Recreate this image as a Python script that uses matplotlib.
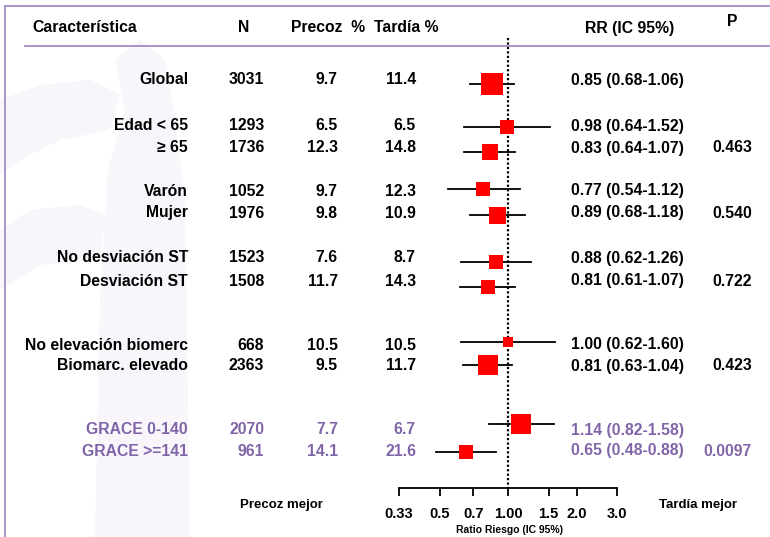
#!/usr/bin/env python

import numpy as np
import matplotlib
matplotlib.use('Agg')
import matplotlib.pyplot as plt
import matplotlib.transforms as mtransforms
from matplotlib.patches import Polygon

plt.rcParams['font.family'] = ['Liberation Sans', 'DejaVu Sans']

# Data
labels = ['Global', 'Edad < 65', '\u2265 65', 'Varón', 'Mujer',
          'No desviación ST', 'Desviación ST',
          'No elevación biomerc', 'Biomarc. elevado',
          'GRACE 0-140', 'GRACE >=141']
n_pts = [3031, 1293, 1736, 1052, 1976, 1523, 1508, 668, 2363, 2070, 961]
precoz = ['9.7', '6.5', '12.3', '9.7', '9.8', '7.6', '11.7', '10.5', '9.5', '7.7', '14.1']
tardia = ['11.4', '6.5', '14.8', '12.3', '10.9', '8.7', '14.3', '10.5', '11.7', '6.7', '21.6']
rr = [0.85, 0.98, 0.83, 0.77, 0.89, 0.88, 0.81, 1.00, 0.81, 1.14, 0.65]
ci_lo = [0.68, 0.64, 0.64, 0.54, 0.68, 0.62, 0.61, 0.62, 0.63, 0.82, 0.48]
ci_hi = [1.06, 1.52, 1.07, 1.12, 1.18, 1.26, 1.07, 1.60, 1.04, 1.58, 0.88]
p_vals = ['', '', '0.463', '', '0.540', '', '0.722', '', '0.423', '', '0.0097']
ticks = [0.33, 0.5, 0.7, 1.0, 1.5, 2.0, 3.0]
tick_labels = ['0.33', '0.5', '0.7', '1.00', '1.5', '2.0', '3.0']

# Layout (pixel rows of the 770x537 canvas)
W, H = 770, 537
row_y = [80, 126, 148, 191, 213, 258, 281, 345, 366, 430, 451]
box_y = [84, 127, 152, 189, 215, 262, 287, 342, 365, 424, 452]
box_px = [22, 14, 16, 14, 17, 14, 14, 10, 20, 20, 14]
purple_rows = [9, 10]
purple = '#8064a8'
frame_col = '#a58bc6'

fig = plt.figure(figsize=(W / 100, H / 100), dpi=100)

# faint watermark in the background
wm = '#f8f6fb'
bg = fig.add_axes([0, 0, 1, 1])
bg.set_xlim(0, W)
bg.set_ylim(H, 0)
bg.axis('off')
bg.add_patch(Polygon([(95, 537), (100, 300), (108, 170), (125, 110), (115, 60),
                      (140, 40), (165, 60), (175, 120), (185, 200), (190, 537)],
                     closed=True, color=wm, lw=0))
bg.add_patch(Polygon([(0, 100), (40, 85), (90, 80), (120, 95), (110, 130),
                      (60, 140), (20, 160), (0, 175)],
                     closed=True, color=wm, lw=0))
bg.add_patch(Polygon([(0, 230), (30, 210), (80, 205), (105, 215), (100, 260),
                      (40, 265), (0, 290)],
                     closed=True, color=wm, lw=0))
bg.plot([5, W], [6, 6], color=frame_col, lw=1.3)
bg.plot([5, 5], [6, H], color=frame_col, lw=1.3)
bg.plot([25, W], [46, 46], color=frame_col, lw=1.3)

# forest plot axes
x0, x1 = 399, 617
ax = fig.add_axes([x0 / W, 0, (x1 - x0) / W, 1])
ax.patch.set_alpha(0)
ax.set_xscale('log')
ax.set_xlim(0.33, 3.0)
ax.set_ylim(H, 0)
for s in ['top', 'left', 'right']:
    ax.spines[s].set_visible(False)
ax.spines['bottom'].set_position(('data', 488))
ax.spines['bottom'].set_linewidth(1.3)
ax.set_yticks([])
ax.set_xticks(ticks)
ax.set_xticklabels(tick_labels, fontsize=10.5, fontweight='bold')
ax.xaxis.set_minor_locator(matplotlib.ticker.NullLocator())
ax.tick_params(axis='x', direction='out', length=6, width=1.3, pad=8)

ax.plot([1, 1], [38, 488], color='black', ls=(0, (1, 1)), lw=1.6)
for i in range(len(rr)):
    ax.plot([ci_lo[i], ci_hi[i]], [box_y[i], box_y[i]], color='black', lw=1.3)
    ax.plot(rr[i], box_y[i], marker='s', color='red', ms=box_px[i] * 0.72,
            mec='red', mew=0)

# table text
tr = mtransforms.blended_transform_factory(bg.transData, ax.transData)
fs = 11.3
hdr = dict(transform=tr, fontsize=fs, va='center', color='black', fontweight='bold')
ax.text(32, 28, 'Característica', ha='left', **hdr)
ax.text(244, 28, 'N', ha='center', **hdr)
ax.text(291, 28, 'Precoz  %', ha='left', **hdr)
ax.text(374, 28, 'Tardía %', ha='left', **hdr)
ax.text(630, 28, 'RR (IC 95%)', ha='center', **hdr)
ax.text(732, 22, 'P', ha='center', **hdr)

for i in range(len(labels)):
    c = purple if i in purple_rows else 'black'
    kw = dict(transform=tr, fontsize=fs, va='center', color=c, fontweight='bold')
    y = row_y[i]
    ax.text(188, y, labels[i], ha='right', **kw)
    ax.text(264, y, str(n_pts[i]), ha='right', **kw)
    ax.text(338, y, precoz[i], ha='right', **kw)
    ax.text(416, y, tardia[i], ha='right', **kw)
    ax.text(571, y, '%.2f (%.2f-%.2f)' % (rr[i], ci_lo[i], ci_hi[i]), ha='left', **kw)
    if p_vals[i]:
        ax.text(752, y, p_vals[i], ha='right', **kw)

ax.text(281, 505, 'Precoz mejor', transform=tr, fontsize=9.5, ha='center', va='center',
        fontweight='bold')
ax.text(698, 505, 'Tardía mejor', transform=tr, fontsize=9.5, ha='center', va='center',
        fontweight='bold')
ax.text(510, 530, 'Ratio Riesgo (IC 95%)', transform=tr, fontsize=7.5, ha='center',
        va='center', fontweight='bold')

fig.savefig('out.png', dpi=100)
